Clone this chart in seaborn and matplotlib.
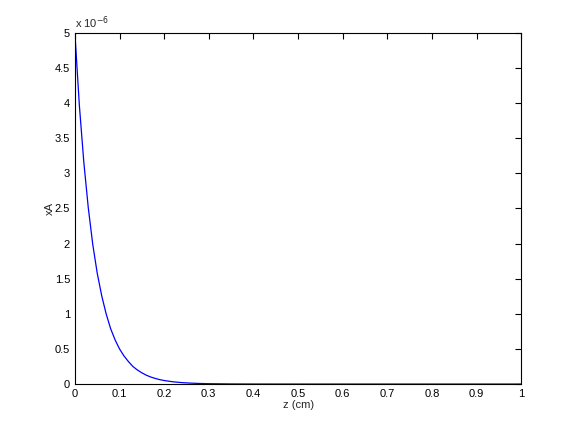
import numpy as np
import matplotlib
matplotlib.use('Agg')
import matplotlib.pyplot as plt
import seaborn as sns
from matplotlib.ticker import FuncFormatter

### values (xA in units of 1e-6)
z_cm = [0.0, 0.01, 0.02, 0.03, 0.04, 0.05, 0.06, 0.07, 0.08, 0.09,
        0.10, 0.11, 0.12, 0.13, 0.14, 0.15, 0.16, 0.17, 0.18, 0.19,
        0.20, 0.22, 0.24, 0.26, 0.28, 0.30, 0.35, 0.40, 0.50, 0.60,
        0.70, 0.80, 0.90, 1.00]
xA_e6 = [5.0, 3.97, 3.16, 2.51, 1.99, 1.58, 1.26, 1.00, 0.79, 0.63,
         0.50, 0.40, 0.32, 0.25, 0.20, 0.16, 0.126, 0.10, 0.08, 0.063,
         0.05, 0.032, 0.02, 0.013, 0.008, 0.005, 0.0016, 0.0005, 0.0, 0.0,
         0.0, 0.0, 0.0, 0.0]
xA = np.array(xA_e6) * 1e-6

sns.set_style('white')
plt.rcParams['font.family'] = ['Liberation Sans', 'DejaVu Sans']

fig = plt.figure(figsize=(5.76, 4.32), dpi=100)
ax = fig.add_axes([0.130, 0.111, 0.775, 0.813])
sns.lineplot(x=z_cm, y=xA, color='#0000ff', linewidth=0.9, ax=ax)

ax.set_xlim(0, 1)
ax.set_ylim(0, 5e-6)
ax.set_xticks(np.arange(0, 1.01, 0.1))
ax.set_yticks(np.arange(0, 5.01e-6, 0.5e-6))
ax.xaxis.set_major_formatter(FuncFormatter(lambda v, p: '%g' % round(v, 2)))
ax.yaxis.set_major_formatter(FuncFormatter(lambda v, p: '%g' % round(v / 1e-6, 2)))
ax.tick_params(direction='in', length=4, width=0.8, labelsize=8,
               top=True, right=True, colors='black')
for s in ax.spines.values():
    s.set_color('black')
    s.set_linewidth(0.8)

ax.set_xlabel('z (cm)', fontsize=8, labelpad=1)
ax.set_ylabel('xA', fontsize=8, labelpad=0)
ax.text(0.0, 1.005, r'x 10$^{-6}$', transform=ax.transAxes, fontsize=8,
        ha='left', va='bottom')

fig.savefig('out.png', dpi=100, facecolor='white')
